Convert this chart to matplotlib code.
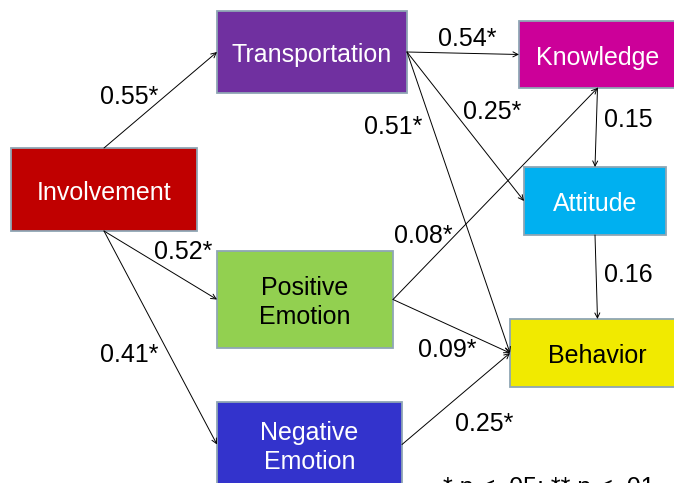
import matplotlib
matplotlib.use('Agg')
import matplotlib.pyplot as plt
from matplotlib.patches import Rectangle, FancyArrowPatch

plt.rcParams['font.family'] = ['Liberation Sans', 'DejaVu Sans']

# nodes of the path model
node_names = ['Involvement', 'Transportation', 'Knowledge', 'Attitude',
              'Positive', 'Behavior', 'Negative']
node_labels = ['Involvement', 'Transportation', 'Knowledge', 'Attitude',
               'Positive\nEmotion', 'Behavior', 'Negative\nEmotion']
node_fill = ['#C00000', '#7030A0', '#CC0099', '#00B0F0',
             '#92D050', '#F1EA00', '#3333CC']
node_text = ['white', 'white', 'white', 'white', 'black', 'black', 'white']

# paths and coefficients
edge_from = ['Involvement', 'Transportation', 'Transportation', 'Transportation',
             'Knowledge', 'Attitude', 'Involvement', 'Involvement',
             'Positive', 'Positive', 'Negative']
edge_to = ['Transportation', 'Knowledge', 'Attitude', 'Behavior',
           'Attitude', 'Behavior', 'Positive', 'Negative',
           'Knowledge', 'Behavior', 'Behavior']
edge_coef = ['0.55*', '0.54*', '0.25*', '0.51*', '0.15', '0.16',
             '0.52*', '0.41*', '0.08*', '0.09*', '0.25*']
footnote = '* p < .05; ** p < .01'

# layout (pixels, origin top-left): left, top, right, bottom
box = {
    'Involvement': (11, 148, 197, 231),
    'Transportation': (217, 11, 407, 93),
    'Knowledge': (519, 21, 676, 88),
    'Attitude': (524, 167, 666, 235),
    'Positive': (217, 251, 393, 348),
    'Behavior': (510, 319, 685, 387),
    'Negative': (217, 402, 402, 487),
}
edge_sides = [('top', 'left'), ('right', 'left'), ('right', 'left'), ('right', 'left'),
              ('bottom', 'top'), ('bottom', 'top'), ('bottom', 'left'), ('bottom', 'left'),
              ('right', 'bottom'), ('right', 'left'), ('right', 'left')]
label_pos = [(129, 95), (467, 37), (492, 110), (393, 125), (628, 118), (628, 273),
             (183, 250), (129, 353), (423, 234), (447, 348), (484, 422)]


def anchor(name, side):
    l, t, r, b = box[name]
    if side == 'top':
        return ((l + r) / 2, t)
    if side == 'bottom':
        return ((l + r) / 2, b)
    if side == 'left':
        return (l, (t + b) / 2)
    return (r, (t + b) / 2)


fig = plt.figure(figsize=(6.74, 4.83), dpi=100)
ax = fig.add_axes([0, 0, 1, 1])
ax.set_xlim(0, 674)
ax.set_ylim(483, 0)
ax.axis('off')

for name, lab, fc, tc in zip(node_names, node_labels, node_fill, node_text):
    l, t, r, b = box[name]
    ax.add_patch(Rectangle((l, t), r - l, b - t, facecolor=fc,
                           edgecolor='#8FA6B4', lw=1.3, zorder=2))
    ax.text((l + r) / 2, (t + b) / 2 + 3, lab, color=tc, fontsize=18,
            ha='center', va='center', linespacing=1.3, zorder=3)

for src, dst, (s1, s2) in zip(edge_from, edge_to, edge_sides):
    arr = FancyArrowPatch(anchor(src, s1), anchor(dst, s2), arrowstyle='->',
                          mutation_scale=9, lw=0.7, color='black',
                          shrinkA=0, shrinkB=0, zorder=4)
    ax.add_patch(arr)

for coef, (x, y) in zip(edge_coef, label_pos):
    ax.text(x, y + 9, coef, fontsize=18, ha='center', va='baseline', zorder=5)

ax.text(443, 495, footnote, fontsize=18, ha='left', va='baseline')

fig.savefig('out.png', dpi=100)
